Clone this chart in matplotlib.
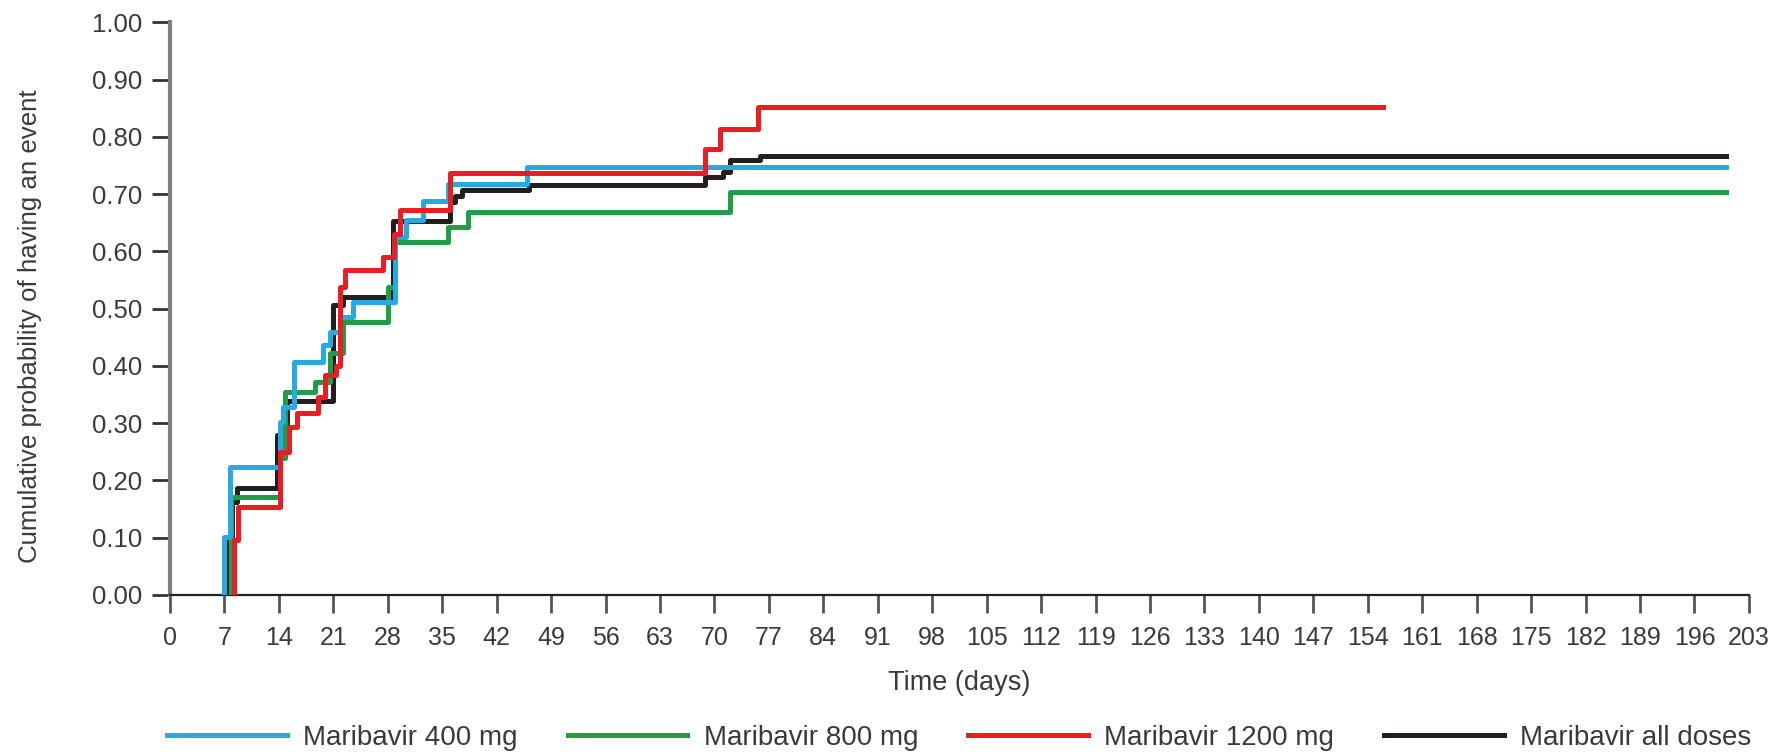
import numpy as np
from matplotlib import pyplot as plt

plt.rcParams['font.family'] = ['Liberation Sans', 'DejaVu Sans']

# step curves (day, cumulative probability)
# first point = first event day at 0, so nothing is drawn along the x axis
days_400 = [6.9, 6.9, 7.7, 14.1, 14.6, 15.9, 19.7, 20.6, 21.9, 23.6, 28.9, 30.4, 32.6, 35.8, 45.9, 200]
prob_400 = [0, 0.102, 0.224, 0.302, 0.329, 0.407, 0.436, 0.460, 0.486, 0.512, 0.625, 0.655, 0.688, 0.717, 0.747, 0.747]

days_800 = [7.8, 7.8, 14.1, 14.8, 18.6, 20.6, 22.2, 28.1, 29.0, 35.8, 38.3, 72.0, 200]
prob_800 = [0, 0.172, 0.240, 0.355, 0.372, 0.422, 0.477, 0.538, 0.617, 0.643, 0.669, 0.704, 0.704]

days_1200 = [8.2, 8.2, 8.8, 14.1, 15.3, 16.3, 19.1, 19.9, 21.4, 21.9, 22.5, 27.4, 28.8, 29.6, 36.0, 68.8, 70.7, 75.6, 156]
prob_1200 = [0, 0.096, 0.154, 0.250, 0.294, 0.317, 0.345, 0.384, 0.400, 0.538, 0.567, 0.591, 0.630, 0.672, 0.737, 0.779, 0.814, 0.852, 0.852]

days_all = [7.2, 7.2, 8.0, 8.6, 13.8, 15.0, 21.0, 22.3, 28.7, 36.0, 36.7, 37.5, 46.1, 68.8, 71.1, 72.0, 75.8, 200]
prob_all = [0, 0.100, 0.163, 0.186, 0.280, 0.338, 0.507, 0.521, 0.653, 0.686, 0.697, 0.707, 0.716, 0.730, 0.739, 0.759, 0.767, 0.767]

labels = ['Maribavir 400 mg', 'Maribavir 800 mg', 'Maribavir 1200 mg', 'Maribavir all doses']
colors = ['#27a9e1', '#1f9d48', '#ed1c24', '#231f20']

x_ticks = np.arange(0, 204, 7)
y_ticks = np.arange(0, 1.01, 0.1)

fig = plt.figure(figsize=(17.83, 7.54), dpi=100)
ax = fig.add_axes([0.0953, 0.2109, 0.8856, 0.7593])

series = [(days_400, prob_400), (days_800, prob_800), (days_1200, prob_1200), (days_all, prob_all)]
zorders = [4, 3, 5, 2]
for (d, p), lab, c, z in zip(series, labels, colors, zorders):
    ax.step(d, p, where='post', color=c, lw=3.6, label=lab, zorder=z)

ax.set_xlim(0, 203)
ax.set_ylim(0, 1.0)
ax.set_xticks(x_ticks)
ax.set_yticks(y_ticks)
ax.set_yticklabels(['%.2f' % v for v in y_ticks])

ax.spines['top'].set_visible(False)
ax.spines['right'].set_visible(False)
ax.spines['left'].set_color('#808080')
ax.spines['left'].set_linewidth(3)
ax.spines['bottom'].set_color('#222222')
ax.spines['bottom'].set_linewidth(1.6)

ax.tick_params(axis='x', direction='out', length=13, width=2, color='#555555',
               labelsize=18, labelcolor='#3a3a3a', pad=9)
ax.tick_params(axis='y', direction='out', length=13, width=2, color='#333333',
               labelsize=18.5, labelcolor='#3a3a3a', pad=7)

ax.set_xlabel('Time (days)', fontsize=19.5, color='#3a3a3a', va='center')
ax.xaxis.set_label_coords(0.5, -0.154)
ax.set_ylabel('Cumulative probability of having an event', fontsize=18.6, color='#3a3a3a', va='center')
ax.yaxis.set_label_coords(-0.0887, 0.47)

ax.legend(loc='center', bbox_to_anchor=(0.5, -0.25), ncol=4, frameon=False,
          fontsize=20, handlelength=4.3, handletextpad=0.6, columnspacing=1.8,
          labelcolor='#3a3a3a')

plt.savefig('out.png', dpi=100)
